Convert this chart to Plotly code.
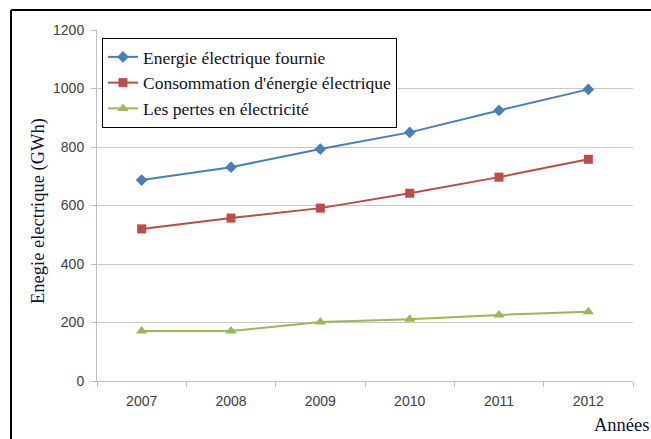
import plotly.graph_objects as go

years = ["2007", "2008", "2009", "2010", "2011", "2012"]
energie_fournie = [687, 731, 793, 850, 925, 997]
consommation = [520, 557, 591, 642, 697, 758]
pertes = [171, 171, 202, 211, 226, 237]

y_ticks = [0, 200, 400, 600, 800, 1000, 1200]

W, H = 651, 439
L, R, T, B = 97, 18, 30, 58
pw, ph = W - L - R, H - T - B

def px_x(p):
    return (p - L) / pw

def px_y(p):
    return (H - B - p) / ph

SERIF = "Liberation Serif, Times New Roman, serif"
SANS = "Liberation Sans, Arial, sans-serif"

fig = go.Figure()
series = [
    ("Energie électrique fournie", energie_fournie, "#4A7EBB", "diamond", 9),
    ("Consommation d'énergie électrique", consommation, "#BE4B48", "square", 9),
    ("Les pertes en électricité", pertes, "#98B954", "triangle-up", 10),
]
for name, vals, col, sym, sz in series:
    fig.add_trace(go.Scatter(
        x=years, y=vals, name=name, mode="lines+markers",
        line=dict(color=col, width=2),
        marker=dict(symbol=sym, size=sz, color=col),
    ))

fig.update_layout(
    width=W, height=H,
    margin=dict(l=L, r=R, t=T, b=B, pad=0),
    paper_bgcolor="white", plot_bgcolor="white",
    showlegend=True,
    legend=dict(
        x=px_x(102), y=px_y(38), xanchor="left", yanchor="top",
        bgcolor="white", bordercolor="black", borderwidth=1,
        font=dict(family=SERIF, size=17.5, color="#111122"),
        tracegroupgap=0, itemwidth=30,
    ),
    xaxis=dict(
        type="category", range=[-0.5, 5.5],
        showgrid=False, showline=True, linecolor="#BFBFBF", linewidth=1,
        ticks="outside", tickson="boundaries", ticklen=5, tickcolor="#BFBFBF",
        tickfont=dict(family=SANS, size=14, color="#404040"),
        ticklabelstandoff=7,
        zeroline=False,
    ),
    yaxis=dict(
        range=[0, 1200], tickvals=y_ticks,
        showgrid=True, gridcolor="#C8C8C8", gridwidth=1,
        showline=True, linecolor="#BFBFBF", linewidth=1,
        ticks="outside", ticklen=5, tickcolor="#BFBFBF",
        tickfont=dict(family=SANS, size=14, color="#404040"),
        ticklabelstandoff=4,
        zeroline=False,
    ),
    annotations=[
        dict(text="Enegie electrique (GWh)", xref="paper", yref="paper",
             x=px_x(38), y=px_y(211), textangle=-90, showarrow=False,
             xanchor="center", yanchor="middle",
             font=dict(family=SERIF, size=18.5, color="#111133")),
        dict(text="Années", xref="paper", yref="paper",
             x=px_x(651), y=px_y(425), showarrow=False,
             xanchor="right", yanchor="middle",
             font=dict(family=SERIF, size=18.5, color="#111133")),
    ],
    shapes=[
        dict(type="line", xref="paper", yref="paper",
             x0=px_x(11), x1=px_x(651), y0=px_y(10), y1=px_y(10),
             line=dict(color="black", width=2)),
        dict(type="line", xref="paper", yref="paper",
             x0=px_x(11), x1=px_x(11), y0=px_y(10), y1=px_y(439),
             line=dict(color="black", width=2)),
    ],
)

fig.write_html("out.html", config={"displayModeBar": False},
               post_script="document.body.style.margin='0px';")
